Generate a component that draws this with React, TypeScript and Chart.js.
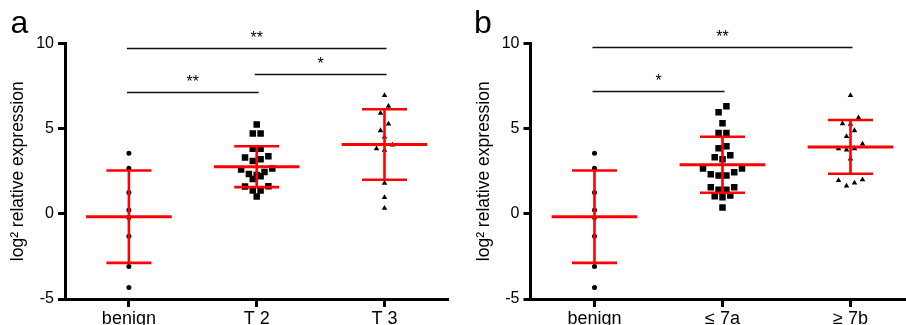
import React, { useEffect, useRef } from 'react';
import { Chart, registerables } from 'chart.js';

Chart.register(...registerables);

const FONT = '"Liberation Sans", Arial, Helvetica, sans-serif';

// ---------- data ----------
const categoriesA = ['benign', 'T 2', 'T 3'];
const categoriesB = ['benign', '≤ 7a', '≥ 7b'];

const benign = [3.56, 2.68, 1.25, 0.23, -0.22, -1.31, -3.09, -4.33];
const t2 = [5.24, 4.71, 4.71, 3.82, 3.82, 3.38, 3.31, 3.2, 3.1, 2.66, 2.6, 2.46, 2.34, 2.28, 2.2, 2.04, 1.62, 1.6, 1.37, 1.37, 1.02];
const t3 = [6.95, 6.32, 5.91, 5.28, 4.89, 4.52, 4.05, 3.83, 3.74, 1.8, 0.96, 0.33];
const le7a = [6.32, 5.97, 5.32, 4.75, 4.75, 3.97, 3.85, 3.44, 3.32, 3.2, 2.66, 2.66, 2.44, 2.33, 2.25, 2.25, 1.56, 1.56, 1.41, 1.41, 1.07, 1.03, 0.98, 0.37];
const ge7b = [6.95, 5.64, 5.3, 5.26, 4.89, 4.54, 4.11, 3.83, 3.83, 3.76, 3.23, 2.01, 1.96, 1.82, 1.64];

const meansA = [-0.17, 2.77, 4.07];
const sdsA = [2.71, 1.2, 2.07];
const meansB = [-0.17, 2.88, 3.93];
const sdsB = [2.71, 1.645, 1.575];

const yTicks = [-5, 0, 5, 10];

const bracketFromA = [0, 1, 0];
const bracketToA = [2, 2, 1];
const bracketYA = [9.75, 8.2, 7.14];
const bracketTextA = ['**', '*', '**'];

const bracketFromB = [0, 0];
const bracketToB = [2, 1];
const bracketYB = [9.82, 7.2];
const bracketTextB = ['**', '*'];

const yTitle = 'log² relative expression';

// ---------- layout helpers ----------
const PX_PER_CAT = 128;

// GraphPad-like row scatter: values close in y are spread horizontally
function swarm(values: number[], center: number, rowUnits: number, stepPx: number) {
  const step = stepPx / PX_PER_CAT;
  const sorted = [...values].sort((a, b) => b - a);
  const pts: { x: number; y: number }[] = [];
  let i = 0;
  while (i < sorted.length) {
    let j = i;
    while (j + 1 < sorted.length && sorted[i] - sorted[j + 1] < rowUnits) j++;
    const row = sorted.slice(i, j + 1);
    const n = row.length;
    const slots: number[] = [];
    for (let k = 0; k < n; k++) slots.push((k - (n - 1) / 2) * step);
    const order: number[] = [];
    let lo = 0;
    let hi = n - 1;
    while (lo <= hi) {
      order.push(hi);
      if (lo !== hi) order.push(lo);
      hi--;
      lo++;
    }
    row.forEach((v, idx) => pts.push({ x: center + slots[order[idx]], y: v }));
    i = j + 1;
  }
  return pts;
}

const errorBarPlugin = {
  id: 'errorBars',
  afterDatasetsDraw(chart: any, _args: any, opts: any) {
    const { ctx } = chart;
    const xs = chart.scales.x;
    const ys = chart.scales.y;
    ctx.save();
    ctx.strokeStyle = '#ff0000';
    ctx.lineCap = 'butt';
    opts.means.forEach((m: number, i: number) => {
      const sd = opts.sds[i];
      const cx = xs.getPixelForValue(i);
      const pm = ys.getPixelForValue(m);
      const pu = ys.getPixelForValue(m + sd);
      const pl = ys.getPixelForValue(m - sd);
      const capL = xs.getPixelForValue(i - 0.176);
      const capR = xs.getPixelForValue(i + 0.176);
      const meanL = xs.getPixelForValue(i - 0.335);
      const meanR = xs.getPixelForValue(i + 0.335);
      ctx.lineWidth = 2.6;
      ctx.beginPath();
      ctx.moveTo(cx, pu);
      ctx.lineTo(cx, pl);
      ctx.moveTo(capL, pu);
      ctx.lineTo(capR, pu);
      ctx.moveTo(capL, pl);
      ctx.lineTo(capR, pl);
      ctx.stroke();
      ctx.lineWidth = 3;
      ctx.beginPath();
      ctx.moveTo(meanL, pm);
      ctx.lineTo(meanR, pm);
      ctx.stroke();
    });
    ctx.restore();
  },
};

const bracketPlugin = {
  id: 'brackets',
  afterDraw(chart: any, _args: any, opts: any) {
    const { ctx } = chart;
    const xs = chart.scales.x;
    const ys = chart.scales.y;
    ctx.save();
    ctx.strokeStyle = '#111';
    ctx.fillStyle = '#000';
    ctx.lineWidth = 1.4;
    ctx.font = `16px ${FONT}`;
    ctx.textAlign = 'center';
    ctx.textBaseline = 'alphabetic';
    opts.from.forEach((f: number, i: number) => {
      const x1 = xs.getPixelForValue(f) - 2;
      const x2 = xs.getPixelForValue(opts.to[i]) + 2;
      const py = Math.round(ys.getPixelForValue(opts.y[i])) + 0.5;
      ctx.beginPath();
      ctx.moveTo(x1, py);
      ctx.lineTo(x2, py);
      ctx.stroke();
      ctx.fillText(opts.text[i], (x1 + x2) / 2, py - 6);
    });
    // panel letter
    ctx.font = `32px ${FONT}`;
    ctx.textAlign = 'left';
    ctx.fillText(opts.letter, opts.letterX, 33.3);
    ctx.restore();
  },
};

interface PanelProps {
  categories: string[];
  groups: number[][];
  means: number[];
  sds: number[];
  bFrom: number[];
  bTo: number[];
  bY: number[];
  bText: string[];
  letter: string;
  letterX: number;
  padLeft: number;
  padRight: number;
  width: number;
  left: number;
}

const styles = ['circle', 'rect', 'triangle'];
const radii = [2.5, 4.6, 3.2];
const stepsPx = [6, 7.8, 8];

function Panel(p: PanelProps) {
  const ref = useRef<HTMLCanvasElement>(null);
  useEffect(() => {
    if (!ref.current) return;
    const datasets = p.groups.map((vals, i) => ({
      data: swarm(vals, i, 0.42, stepsPx[i]),
      pointStyle: styles[i],
      pointRadius: radii[i],
      pointBorderWidth: 0,
      backgroundColor: '#000',
      borderColor: '#000',
      showLine: false,
    }));
    const chart = new Chart(ref.current, {
      type: 'scatter',
      data: { datasets } as any,
      plugins: [errorBarPlugin, bracketPlugin],
      options: {
        responsive: false,
        maintainAspectRatio: false,
        animation: false,
        events: [],
        layout: { padding: { left: p.padLeft, right: p.padRight, top: 43.5, bottom: 0 } },
        plugins: {
          legend: { display: false },
          tooltip: { enabled: false },
          errorBars: { means: p.means, sds: p.sds },
          brackets: { from: p.bFrom, to: p.bTo, y: p.bY, text: p.bText, letter: p.letter, letterX: p.letterX },
        } as any,
        scales: {
          x: {
            type: 'linear',
            min: -0.5,
            max: 2.5,
            afterBuildTicks: (s: any) => {
              s.ticks = p.categories.map((_, i) => ({ value: i }));
            },
            afterFit: (s: any) => {
              s.height = 26;
            },
            ticks: {
              callback: (_v: any, i: number) => p.categories[i],
              font: { family: FONT, size: 18 },
              color: '#000',
              padding: 1,
              autoSkip: false,
              maxRotation: 0,
            },
            grid: { drawOnChartArea: false, drawTicks: true, tickLength: 8, tickWidth: 3, tickColor: '#000' },
            border: { display: true, width: 3, color: '#000' },
          },
          y: {
            type: 'linear',
            min: -5,
            max: 10,
            afterBuildTicks: (s: any) => {
              s.ticks = yTicks.map((v) => ({ value: v }));
            },
            afterFit: (s: any) => {
              s.width = 65;
            },
            ticks: {
              font: { family: FONT, size: 16 },
              color: '#000',
              padding: 4,
            },
            title: {
              display: true,
              text: yTitle,
              font: { family: FONT, size: 17.5 },
              color: '#000',
              padding: { top: 8, bottom: 0 },
            },
            grid: { drawOnChartArea: false, drawTicks: true, tickLength: 7, tickWidth: 3, tickColor: '#000' },
            border: { display: true, width: 3, color: '#000' },
          },
        },
      } as any,
    });
    return () => chart.destroy();
  }, []);
  return (
    <canvas
      ref={ref}
      width={p.width}
      height={325}
      style={{ position: 'absolute', left: p.left, top: 0, width: p.width, height: 325 }}
    />
  );
}

export default function App() {
  return (
    <div
      style={{
        position: 'fixed',
        left: 0,
        top: 0,
        width: 906,
        height: 325,
        overflow: 'hidden',
        background: '#fff',
      }}
    >
      <Panel
        categories={categoriesA}
        groups={[benign, t2, t3]}
        means={meansA}
        sds={sdsA}
        bFrom={bracketFromA}
        bTo={bracketToA}
        bY={bracketYA}
        bText={bracketTextA}
        letter="a"
        letterX={10.5}
        padLeft={0}
        padRight={4}
        width={453}
        left={0}
      />
      <Panel
        categories={categoriesB}
        groups={[benign, le7a, ge7b]}
        means={meansB}
        sds={sdsB}
        bFrom={bracketFromB}
        bTo={bracketToB}
        bY={bracketYB}
        bText={bracketTextB}
        letter="b"
        letterX={21}
        padLeft={12.5}
        padRight={8.5}
        width={470}
        left={453}
      />
    </div>
  );
}
